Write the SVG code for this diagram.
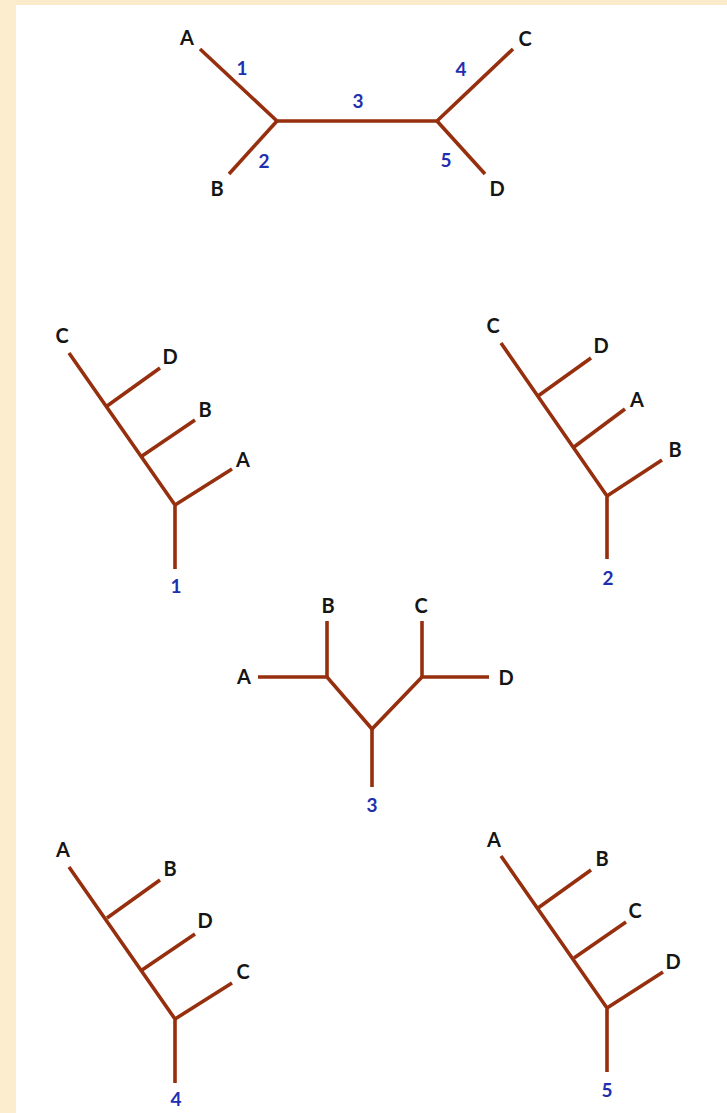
<svg xmlns="http://www.w3.org/2000/svg" width="727" height="1113" viewBox="0 0 727 1113">
<style>
.br{fill:none;stroke:#962f0e;stroke-width:3.6;stroke-linecap:butt;stroke-linejoin:miter}
.lb{font-family:Lato,"Open Sans","Liberation Sans",sans-serif;font-size:20px;font-weight:700;fill:#151515;text-anchor:middle}
.nm{font-family:Lato,"Open Sans","Liberation Sans",sans-serif;font-size:19px;font-weight:700;fill:#1f2fb0;text-anchor:middle}
</style>
<rect x="0" y="0" width="727" height="1113" fill="#ffffff"/>
<rect x="0" y="0" width="727" height="5" fill="#fbebcb"/>
<rect x="0" y="0" width="16" height="1113" fill="#fcedcf"/>

<g id="connectors">
  <g id="tree-unrooted">
    <path class="br" d="M200,49 L277,121 L437,121 L513,49"/>
    <path class="br" d="M229,174 L277,121"/>
    <path class="br" d="M485,174 L437,121"/>
  </g>
  <g id="tree-1">
    <path class="br" d="M69,353 L175,505 L175,569"/>
    <path class="br" d="M107,406 L160,368"/>
    <path class="br" d="M142,456 L195,420"/>
    <path class="br" d="M175,505 L232,469"/>
  </g>
  <g id="tree-2">
    <path class="br" d="M501,343 L607,496 L607,559"/>
    <path class="br" d="M538,396 L591,358"/>
    <path class="br" d="M574,447 L625,409"/>
    <path class="br" d="M607,496 L662,460"/>
  </g>
  <g id="tree-3">
    <path class="br" d="M258,677 L327,677 L372,729 L422,677 L489,677"/>
    <path class="br" d="M327,621 L327,677"/>
    <path class="br" d="M422,621 L422,677"/>
    <path class="br" d="M372,729 L372,787"/>
  </g>
  <g id="tree-4">
    <path class="br" d="M69,867 L175,1019 L175,1083"/>
    <path class="br" d="M107,918 L160,880"/>
    <path class="br" d="M142,970 L195,934"/>
    <path class="br" d="M175,1019 L232,983"/>
  </g>
  <g id="tree-5">
    <path class="br" d="M501,856 L607,1008 L607,1072"/>
    <path class="br" d="M538,908 L591,870"/>
    <path class="br" d="M574,958 L626,922"/>
    <path class="br" d="M607,1008 L663,972"/>
  </g>
</g>

<g id="labels-unrooted">
  <g id="u-A"><text class="lb" x="187" y="45">A</text></g>
  <g id="u-B"><text class="lb" x="217" y="196">B</text></g>
  <g id="u-C"><text class="lb" x="525" y="46">C</text></g>
  <g id="u-D"><text class="lb" x="497" y="196">D</text></g>
  <g id="u-1"><text class="nm" x="242" y="75">1</text></g>
  <g id="u-2"><text class="nm" x="264" y="168">2</text></g>
  <g id="u-3"><text class="nm" x="358" y="108">3</text></g>
  <g id="u-4"><text class="nm" x="461" y="76">4</text></g>
  <g id="u-5"><text class="nm" x="446" y="167">5</text></g>
</g>

<g id="labels-1">
  <g id="t1-C"><text class="lb" x="62" y="343">C</text></g>
  <g id="t1-D"><text class="lb" x="170" y="364">D</text></g>
  <g id="t1-B"><text class="lb" x="205" y="417">B</text></g>
  <g id="t1-A"><text class="lb" x="243" y="467">A</text></g>
  <g id="t1-root"><text class="nm" x="176" y="593">1</text></g>
</g>

<g id="labels-2">
  <g id="t2-C"><text class="lb" x="493" y="333">C</text></g>
  <g id="t2-D"><text class="lb" x="601" y="353">D</text></g>
  <g id="t2-A"><text class="lb" x="637" y="407">A</text></g>
  <g id="t2-B"><text class="lb" x="675" y="457">B</text></g>
  <g id="t2-root"><text class="nm" x="608" y="585">2</text></g>
</g>

<g id="labels-3">
  <g id="t3-A"><text class="lb" x="244" y="684">A</text></g>
  <g id="t3-B"><text class="lb" x="328" y="613">B</text></g>
  <g id="t3-C"><text class="lb" x="421" y="613">C</text></g>
  <g id="t3-D"><text class="lb" x="506" y="685">D</text></g>
  <g id="t3-root"><text class="nm" x="372" y="812">3</text></g>
</g>

<g id="labels-4">
  <g id="t4-A"><text class="lb" x="63" y="857">A</text></g>
  <g id="t4-B"><text class="lb" x="170" y="876">B</text></g>
  <g id="t4-D"><text class="lb" x="205" y="928">D</text></g>
  <g id="t4-C"><text class="lb" x="243" y="979">C</text></g>
  <g id="t4-root"><text class="nm" x="176" y="1106">4</text></g>
</g>

<g id="labels-5">
  <g id="t5-A"><text class="lb" x="494" y="847">A</text></g>
  <g id="t5-B"><text class="lb" x="602" y="866">B</text></g>
  <g id="t5-C"><text class="lb" x="635" y="918">C</text></g>
  <g id="t5-D"><text class="lb" x="673" y="969">D</text></g>
  <g id="t5-root"><text class="nm" x="607" y="1097">5</text></g>
</g>
</svg>
